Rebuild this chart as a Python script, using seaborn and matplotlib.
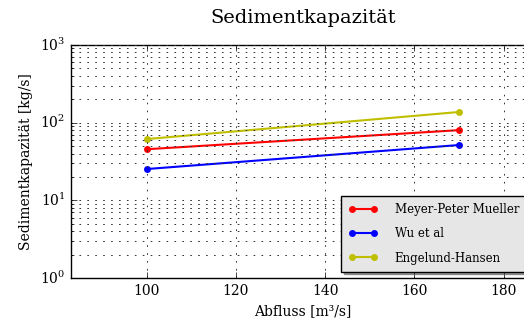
import numpy as np
import pandas as pd
import matplotlib
matplotlib.use("Agg")
import matplotlib.pyplot as plt
import seaborn as sns

# Werte
abfluss = [100, 170]
mpm = [45.5, 80.0]
wu = [25.3, 51.5]
eh = [61.5, 137.0]
namen = ["Meyer-Peter Mueller", "Wu et al", "Engelund-Hansen"]
farben = ["r", "b", "y"]

plt.style.use("classic")
plt.rcParams["font.family"] = ["DejaVu Serif"]
plt.rcParams["mathtext.fontset"] = "dejavuserif"

df = pd.DataFrame({
    "abfluss": abfluss * 3,
    "kapazitaet": mpm + wu + eh,
    "methode": [n for n in namen for _ in abfluss],
})

fig = plt.figure(figsize=(5.24, 3.23), dpi=100, facecolor="white")
ax = fig.add_axes([0.1355, 0.139, 0.885, 0.722])

sns.lineplot(
    data=df,
    x="abfluss",
    y="kapazitaet",
    hue="methode",
    palette=dict(zip(namen, farben)),
    marker="o",
    markersize=5,
    markeredgewidth=0,
    linewidth=1.5,
    ax=ax,
)

ax.set_yscale("log")
ax.set_ylim(1, 1000)
ax.set_xlim(83, 187)
ax.set_xticks([100, 120, 140, 160, 180])
ax.tick_params(labelsize=10)

# gepunktetes Gitter, auch für die Nebenticks der y-Achse
grid_style = dict(linestyle=(0, (1.2, 4.5)), color="#333333", linewidth=0.7)
ax.grid(True, which="major", **grid_style)
ax.grid(True, which="minor", axis="y", **grid_style)

ax.set_title("Sedimentkapazität", fontsize=14, pad=16)
ax.set_xlabel("Abfluss [m³/s]", fontsize=10)
ax.set_ylabel("Sedimentkapazität [kg/s]", fontsize=10)

handles, labels = ax.get_legend_handles_labels()
leg = ax.legend(
    handles, labels,
    loc="upper left",
    bbox_to_anchor=(0.6508, 0.3932),
    bbox_transform=fig.transFigure,
    borderaxespad=0,
    fontsize=8.5,
    numpoints=2,
    shadow=True,
    fancybox=False,
    handlelength=2.5,
    borderpad=0.6,
    labelspacing=0.95,
    handletextpad=1.45,
)
leg.get_frame().set_facecolor("#e6e6e6")
leg.get_frame().set_edgecolor("black")

fig.savefig("out.png", dpi=100)
